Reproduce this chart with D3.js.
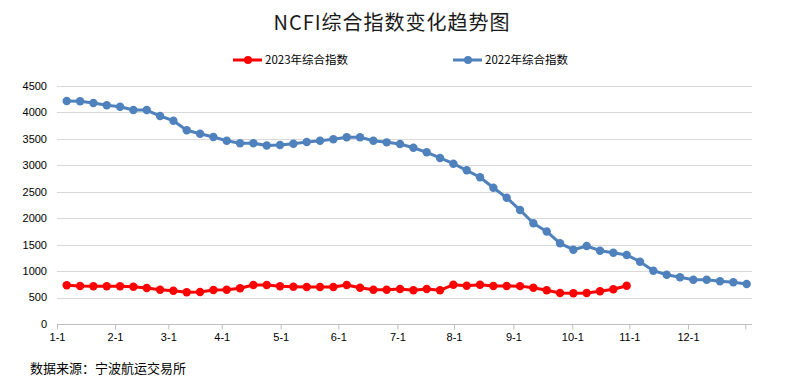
<!DOCTYPE html>
<html>
<head>
<meta charset="utf-8">
<script src="https://cdn.jsdelivr.net/npm/d3@7/dist/d3.min.js"></script>
<style>
  html, body { margin: 0; padding: 0; background: #fff; }
  svg { display: block; }
  text { font-family: "Noto Sans CJK SC", "Liberation Sans", sans-serif; }
</style>
</head>
<body>
<script>
// ---- data ----
const titleText = "NCFI综合指数变化趋势图";
const sourceText = "数据来源：宁波航运交易所";
const seriesNames = ["2023年综合指数", "2022年综合指数"];
const values2023 = [732, 718, 713, 713, 713, 705, 681, 649, 630, 599, 605, 643, 649, 675, 737, 737, 713, 705, 700, 700,
  700, 737, 686, 649, 649, 662, 637, 662, 637, 743, 724, 743, 718, 718, 716, 686, 637, 586, 580, 586, 618, 656, 724];
const values2022 = [4216, 4211, 4178, 4135, 4109, 4046, 4046, 3932, 3844, 3662, 3598, 3536, 3466, 3417, 3417, 3376,
  3384, 3409, 3441, 3466, 3492, 3530, 3530, 3466, 3435, 3403, 3333, 3246, 3139, 3031, 2906, 2774, 2577, 2388, 2155,
  1904, 1750, 1526, 1405, 1475, 1386, 1348, 1305, 1178, 1008, 932, 883, 838, 838, 807, 788, 756];
// x ticks: position in week units, label
const tickWeeks = [-0.73, 3.62, 7.62, 11.63, 16.05, 20.37, 24.8, 29.05, 33.5, 37.92, 42.2, 46.6, 50.9];
const tickLabels = ["1-1", "2-1", "3-1", "4-1", "5-1", "6-1", "7-1", "8-1", "9-1", "10-1", "11-1", "12-1", ""];
const yTicks = [0, 500, 1000, 1500, 2000, 2500, 3000, 3500, 4000, 4500];
const colors = ["#ff0000", "#4f81bd"];

// ---- layout ----
const W = 788, H = 383;
const plot = { left: 57, right: 752, top: 86, bottom: 324 };

const svg = d3.select("body").append("svg").attr("width", W).attr("height", H);

const x = d3.scaleLinear().domain([-0.73, 51.4]).range([plot.left, plot.right]);
const y = d3.scaleLinear().domain([0, 4500]).range([plot.bottom, plot.top]);

// gridlines
svg.append("g").selectAll("line").data(yTicks.filter(d => d > 0)).join("line")
  .attr("x1", plot.left).attr("x2", plot.right)
  .attr("y1", d => Math.round(y(d)) + 0.5).attr("y2", d => Math.round(y(d)) + 0.5)
  .attr("stroke", "#d9d9d9").attr("stroke-width", 1);

// y labels
svg.append("g").selectAll("text").data(yTicks).join("text")
  .attr("x", 47).attr("y", d => y(d)).attr("dy", "0.35em")
  .attr("text-anchor", "end").attr("font-size", 11).attr("fill", "#000")
  .style("font-family", "'Liberation Sans', Arial, sans-serif")
  .text(d => d);

// x axis
const xAxis = d3.axisBottom(x).tickValues(tickWeeks).tickSize(5).tickPadding(4)
  .tickFormat((d, i) => tickLabels[i]);
const gx = svg.append("g").attr("transform", `translate(0,${Math.round(plot.bottom) + 0.5})`).call(xAxis);
gx.select(".domain").attr("stroke", "#bfbfbf").attr("d", `M${plot.left},0H${plot.right}`);
gx.selectAll(".tick line").attr("stroke", "#bfbfbf");
gx.selectAll(".tick text").attr("font-size", 11).attr("fill", "#000")
  .style("font-family", "'Liberation Sans', Arial, sans-serif");

// series
const line = d3.line().x((d, i) => x(i)).y(d => y(d));
const series = [values2023, values2022];
series.forEach((vals, k) => {
  const g = svg.append("g");
  g.append("path").datum(vals).attr("d", line)
    .attr("fill", "none").attr("stroke", colors[k]).attr("stroke-width", 3)
    .attr("stroke-linejoin", "round");
  g.selectAll("circle").data(vals).join("circle")
    .attr("cx", (d, i) => x(i)).attr("cy", d => y(d)).attr("r", 4.2)
    .attr("fill", colors[k]);
});

// title
svg.append("text").attr("x", 392).attr("y", 30).attr("text-anchor", "middle")
  .attr("font-size", 20).attr("fill", "#1a1a1a").attr("font-weight", 400)
  .style("letter-spacing", "1px")
  .text(titleText);

// legend
const legendX = [233, 453];
seriesNames.forEach((name, k) => {
  const g = svg.append("g").attr("transform", `translate(${legendX[k]},60)`);
  g.append("line").attr("x1", 0).attr("x2", 29).attr("y1", 0).attr("y2", 0)
    .attr("stroke", colors[k]).attr("stroke-width", 3);
  g.append("circle").attr("cx", 15).attr("cy", 0).attr("r", 4).attr("fill", colors[k]);
  g.append("text").attr("x", 32).attr("y", 0).attr("dy", "0.36em")
    .attr("font-size", 11.5).attr("fill", "#000").text(name);
});

// source
svg.append("text").attr("x", 30).attr("y", 368).attr("dy", "0.36em")
  .attr("font-size", 13).attr("fill", "#000").text(sourceText);
</script>
</body>
</html>
